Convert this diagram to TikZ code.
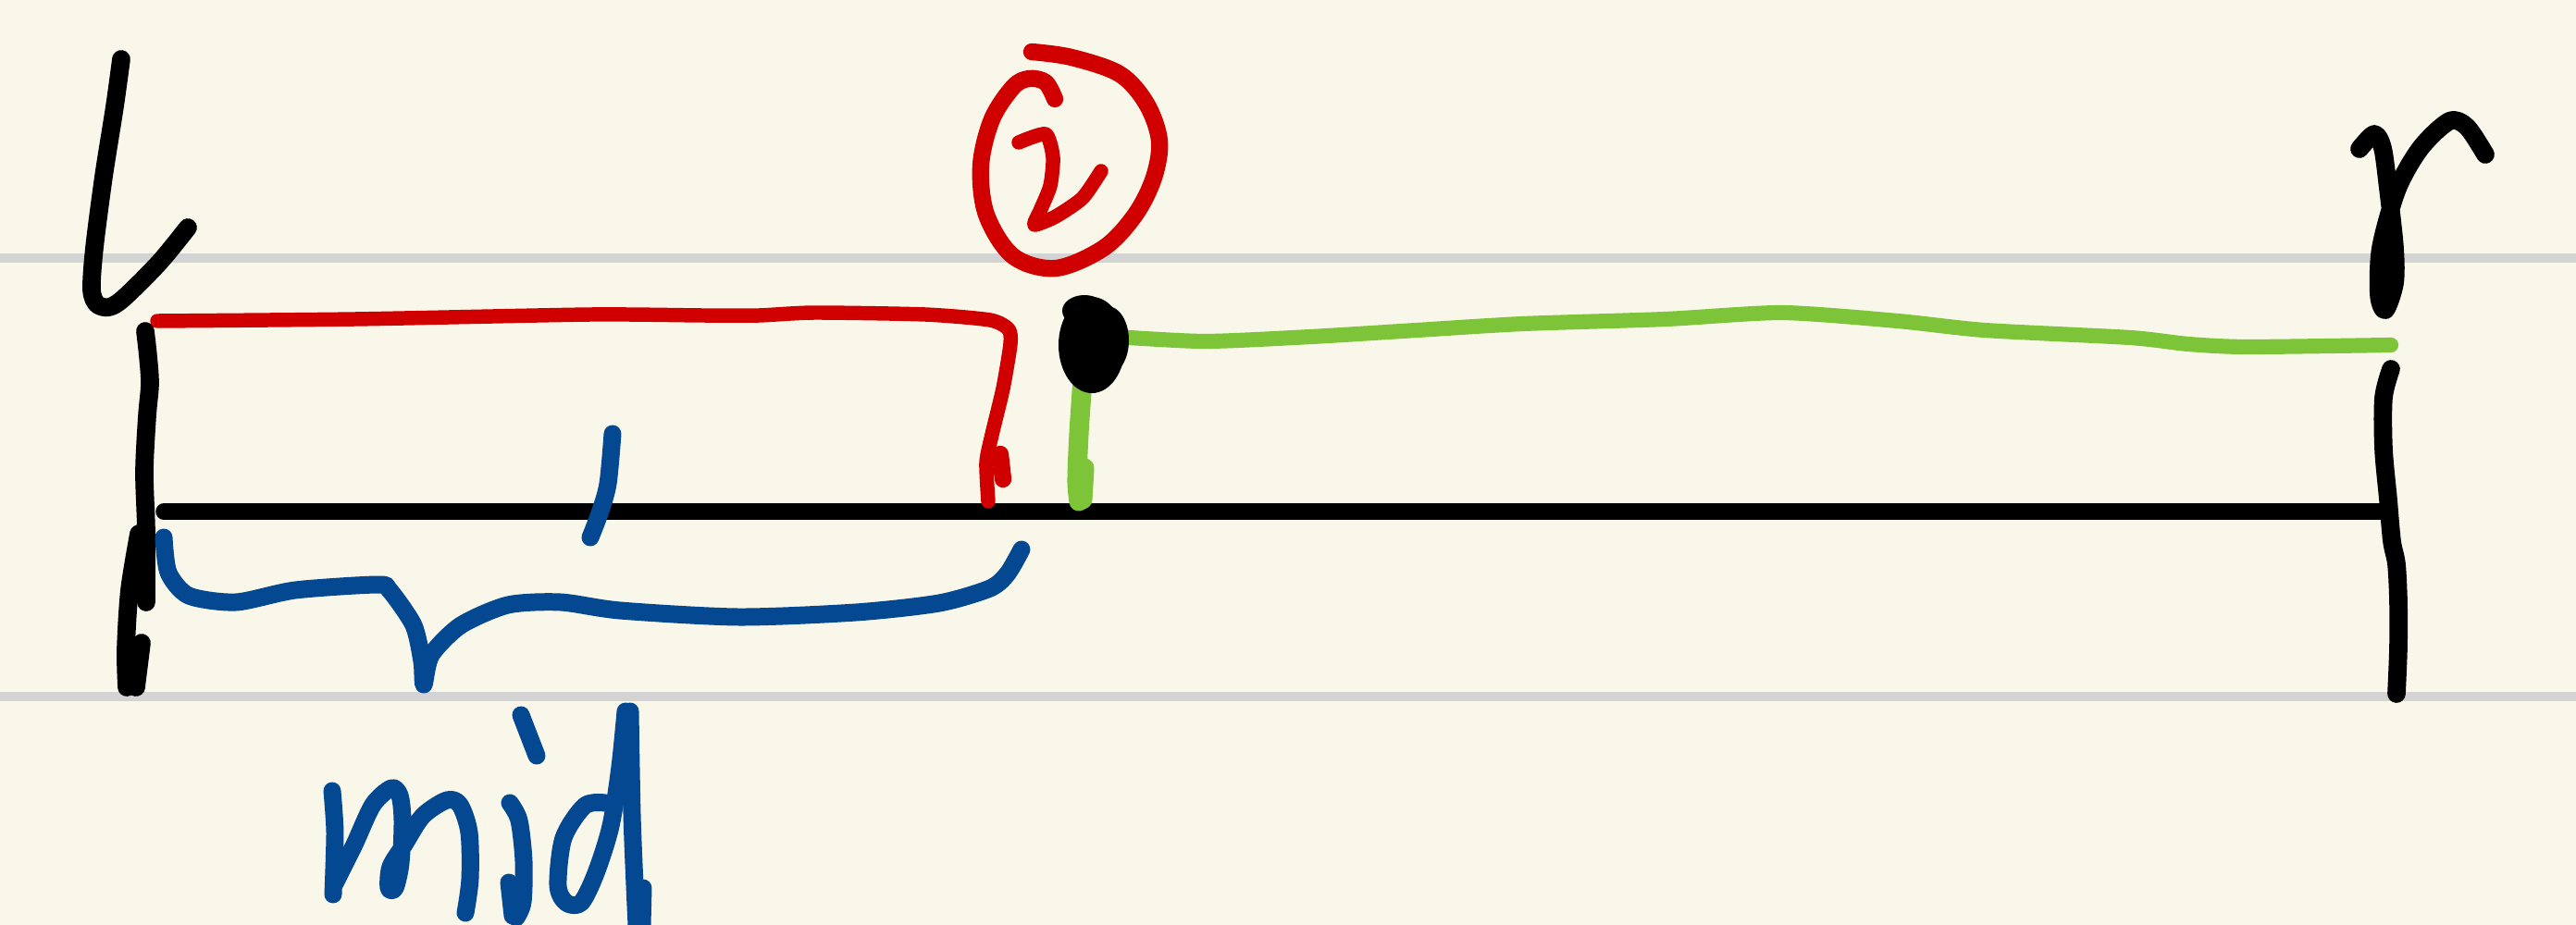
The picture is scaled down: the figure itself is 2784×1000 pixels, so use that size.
\documentclass[tikz,border=0pt]{standalone}
\definecolor{paper}{RGB}{249,247,234}
\definecolor{rulegray}{RGB}{211,211,211}
\definecolor{inkred}{RGB}{208,0,0}
\definecolor{inkblue}{RGB}{3,72,145}
\definecolor{inkgreen}{RGB}{126,196,56}
\begin{document}
\begin{tikzpicture}[x=0.01cm,y=-0.01cm,
  pen/.style={line cap=round,line join=round},
  blackpen/.style={pen,draw=black,line width=5.6pt},
  baseline/.style={pen,draw=black,line width=5pt},
  redpen/.style={pen,draw=inkred,line width=4.4pt},
  redfat/.style={pen,draw=inkred,line width=5.2pt},
  bluepen/.style={pen,draw=inkblue,line width=5.4pt},
  greenpen/.style={pen,draw=inkgreen,line width=4.6pt},
  greenfat/.style={pen,draw=inkgreen,line width=6pt},
  rulestyle/.style={draw=rulegray,line width=2.6pt}]
\fill[paper] (0,0) rectangle (2784,1000);
\useasboundingbox (0,0) rectangle (2784,1000);
% ruled lines
\draw[rulestyle] (0,279) -- (2784,279);
\draw[rulestyle] (0,753) -- (2784,753);

% letter l
\draw[blackpen] plot[smooth,tension=0.5] coordinates {(131,64) (124,115) (112,191) (102,268) (99,313) (105,329) (118,332) (134,322) (172,284) (203,246)};
% left bar
\draw[blackpen] plot[smooth,tension=0.5] coordinates {(157,358) (160,385) (162,415) (159,450) (156,510) (158,574) (158,651)};
\draw[blackpen] plot[smooth,tension=0.5] coordinates {(150,577) (140,638) (136,702) (137,743)};
\draw[blackpen] (153,695) -- (147,743);

% main black line
\draw[baseline] (177,553) -- (2578,553);

% red top line with corner down
\draw[redpen] plot[smooth,tension=0.4] coordinates {(170,347) (383,345) (638,340) (760,341) (820,341) (880,338) (1000,340) (1070,346) (1090,356) (1092,372) (1084,420) (1072,470) (1066,500) (1068,542)};
\draw[redfat] (1081,491) -- (1084,518);

% red circled 2
\draw[redfat] plot[smooth,tension=0.55] coordinates {(1115,56) (1158,62) (1210,80) (1239,112) (1253,152) (1247,192) (1227,232) (1193,268) (1141,290) (1095,277) (1066,232) (1060,179) (1072,129) (1095,94) (1112,85) (1130,89) (1140,107)};
\draw[redpen] plot[smooth,tension=0.4] coordinates {(1101,154) (1130,145) (1138,170) (1135,201) (1124,228) (1118,243) (1141,234) (1170,214) (1190,185)};

% green line
\draw[greenpen] plot[smooth,tension=0.4] coordinates {(1205,364) (1302,369) (1417,364) (1531,357) (1646,350) (1800,345) (1926,338) (2051,347) (2145,357) (2302,365) (2365,372) (2428,375) (2584,373)};
\draw[greenfat] plot[smooth,tension=0.5] coordinates {(1170,410) (1166,469) (1164,520) (1166,542)};
\draw[greenfat] (1172,506) -- (1170,540);

% black blob
\fill[black] (1180,373) ellipse [x radius=36, y radius=52];
\fill[black] (1197,368) ellipse [x radius=23, y radius=37];
\fill[black] (1172,336) ellipse [x radius=24, y radius=17];

% right bar
\draw[blackpen] plot[smooth,tension=0.5] coordinates {(2584,399) (2576,430) (2576,485) (2581,540) (2585,585) (2590,610) (2592,650) (2592,700) (2590,750)};

% letter r
\draw[blackpen] plot[smooth,tension=0.5] coordinates {(2550,161) (2566,145) (2575,160) (2581,204) (2588,268) (2588,306) (2578,335) (2571,319) (2573,268) (2591,204) (2616,160) (2647,131) (2666,137) (2686,167)};

% blue brace
\draw[bluepen] plot[smooth,tension=0.45] coordinates {(177,581) (182,619) (204,644) (255,651) (319,638) (408,632) (421,638) (447,676) (456,715) (458,740) (466,708) (498,676) (549,654) (606,651) (670,660) (798,667) (925,662) (1015,652) (1070,636) (1089,620) (1104,594)};
% blue tick
\draw[bluepen] plot[smooth,tension=0.5] coordinates {(662,469) (657,523) (648,555) (638,581)};

% mid
\draw[bluepen] plot[smooth,tension=0.4] coordinates {(359,855) (362,900) (360,967)};
\draw[bluepen] plot[smooth,tension=0.5] coordinates {(362,955) (383,913) (403,870) (423,852) (432,860) (435,887) (433,933) (427,960) (420,960) (422,937) (437,913) (457,882) (483,865) (497,870) (507,900) (508,950) (503,987)};
\draw[bluepen] (563,773) -- (580,817);
\draw[bluepen] plot[smooth,tension=0.5] coordinates {(551,868) (561,887) (566,931) (565,975) (558,992)};
\draw[bluepen] (550,954) -- (554,990);
\draw[bluepen] plot[smooth,tension=0.5] coordinates {(654,868) (632,871) (609,906) (603,957) (612,976) (628,976) (644,944) (660,893) (670,829) (676,769)};
\draw[bluepen] plot[smooth,tension=0.5] coordinates {(681,769) (683,880) (686,957) (688,1000)};
\draw[bluepen] (695,960) -- (694,1000);
\end{tikzpicture}
\end{document}
